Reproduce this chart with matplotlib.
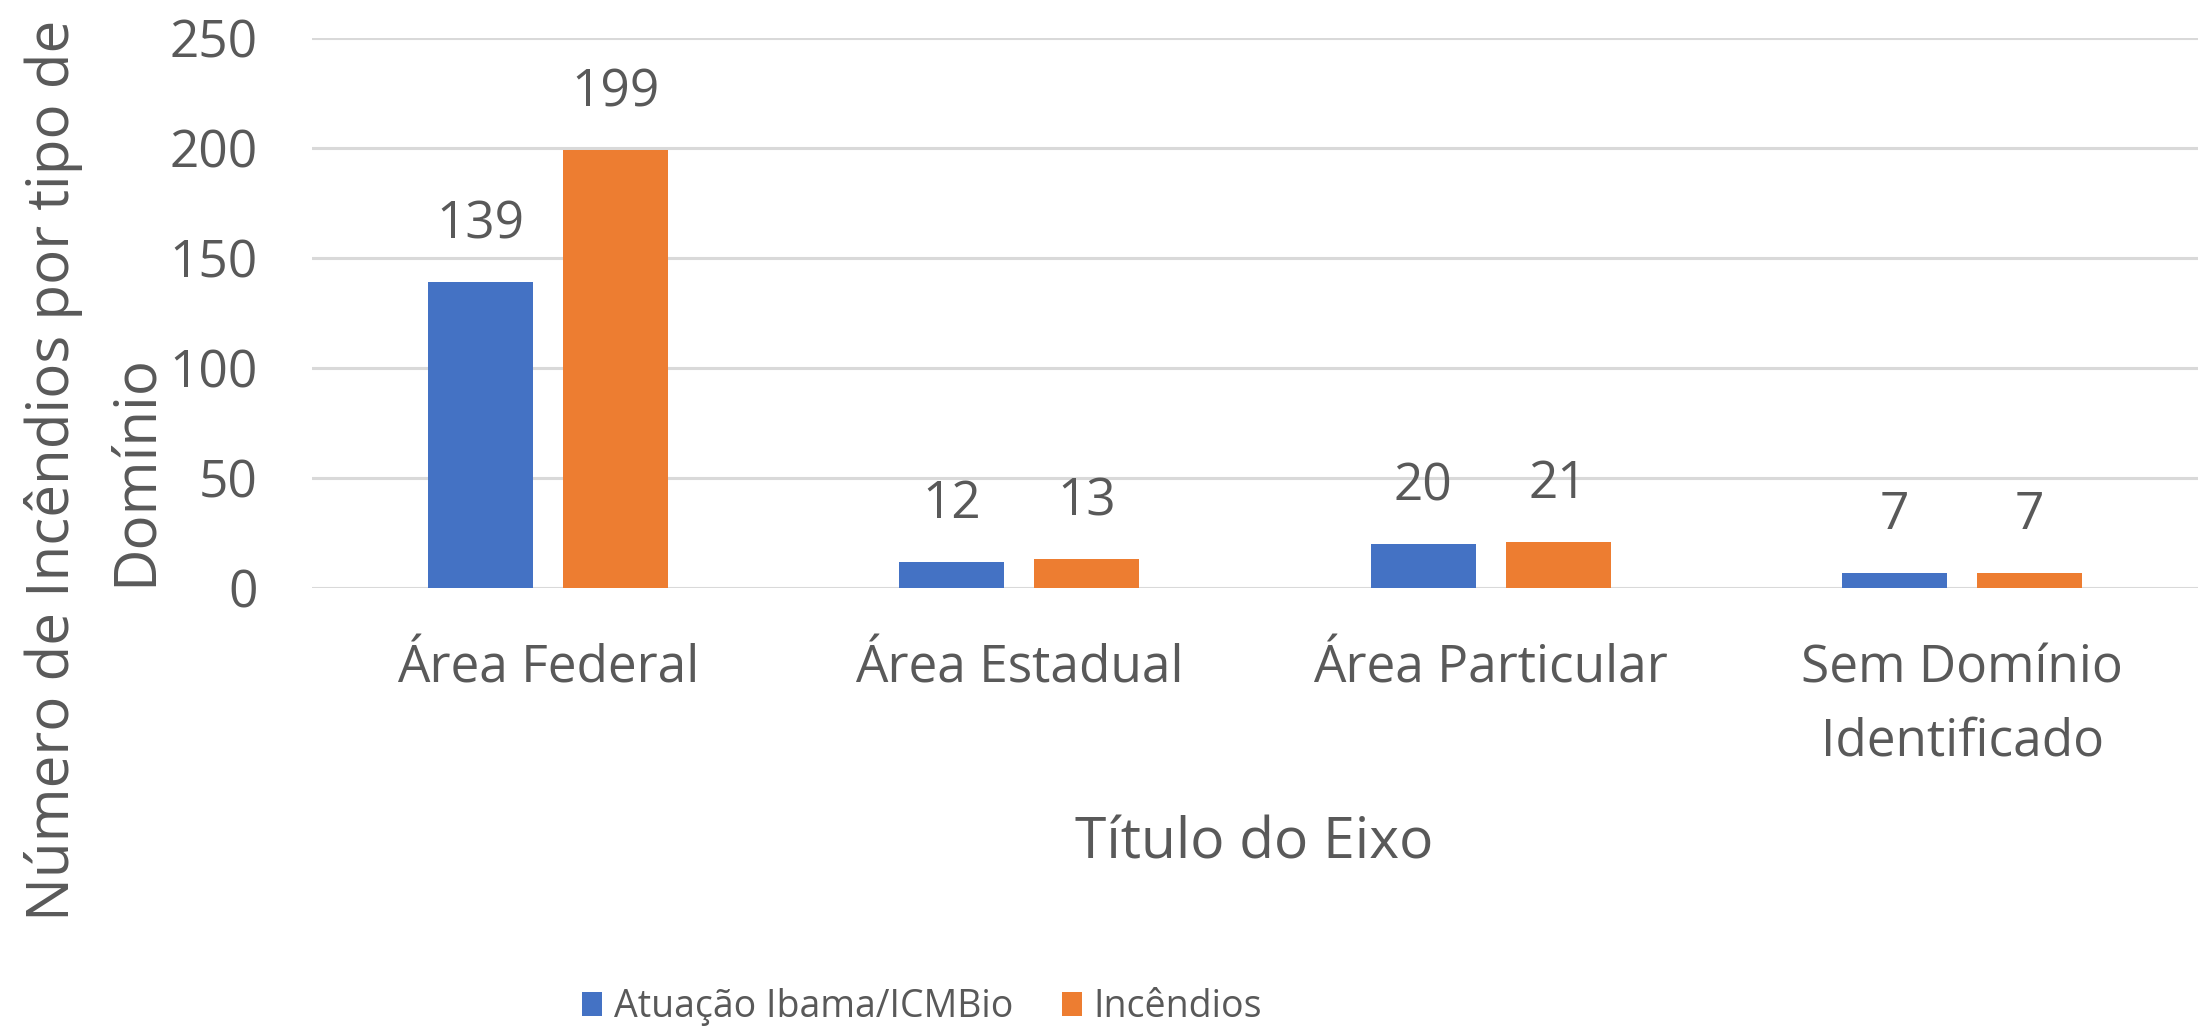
import numpy as np
import matplotlib.pyplot as plt

categorias = ['Área Federal', 'Área Estadual', 'Área Particular', 'Sem Domínio\nIdentificado']
atuacao = [139, 12, 20, 7]
incendios = [199, 13, 21, 7]
series_nomes = ['Atuação Ibama/ICMBio', 'Incêndios']
yticks = [0, 50, 100, 150, 200, 250]

plt.rcParams['font.family'] = ['Open Sans', 'DejaVu Sans']
cinza = '#595959'
azul = '#4472C4'
laranja = '#ED7D31'

fig = plt.figure(figsize=(21.98, 10.34), dpi=100)
ax = fig.add_axes([0.142, 0.4313, 0.858, 0.5319])

x = np.arange(len(categorias))
w = 0.223
off = 0.143
b1 = ax.bar(x - off, atuacao, w, color=azul, label=series_nomes[0], zorder=3)
b2 = ax.bar(x + off, incendios, w, color=laranja, label=series_nomes[1], zorder=3)

# rótulos de dados acima das barras
for bars, vals in [(b1, atuacao), (b2, incendios)]:
    for b, v in zip(bars, vals):
        ax.annotate(str(v), (b.get_x() + b.get_width() / 2, v), xytext=(0, 41),
                    textcoords='offset points', ha='center', va='center',
                    fontsize=37, color=cinza)

ax.set_xlim(-0.5, 3.5)
ax.set_ylim(0, 250)
ax.set_yticks(yticks)
ax.yaxis.grid(True, color='#D9D9D9', linewidth=2.2, zorder=0)
ax.set_axisbelow(True)
for s in ax.spines.values():
    s.set_visible(False)
ax.tick_params(axis='both', length=0, labelsize=37, labelcolor=cinza)
ax.tick_params(axis='y', pad=39)
ax.tick_params(axis='x', pad=40)
ax.set_xticks(x)
ax.set_xticklabels(categorias, linespacing=1.55)

fig.text(0.5705, 0.184, 'Título do Eixo', ha='center', va='center', fontsize=41, color=cinza)
fig.text(0.043, 0.545, 'Número de Incêndios por tipo de\nDomínio', ha='center', va='center',
         rotation=90, fontsize=42, color=cinza, linespacing=1.52)

ax.legend(loc='center', bbox_to_anchor=(0.4195, 0.026), bbox_transform=fig.transFigure,
          ncol=2, frameon=False, fontsize=27, labelcolor=cinza, handlelength=0.55,
          handleheight=0.6, handletextpad=0.3, columnspacing=1.3)

fig.savefig('out.png', dpi=100)
